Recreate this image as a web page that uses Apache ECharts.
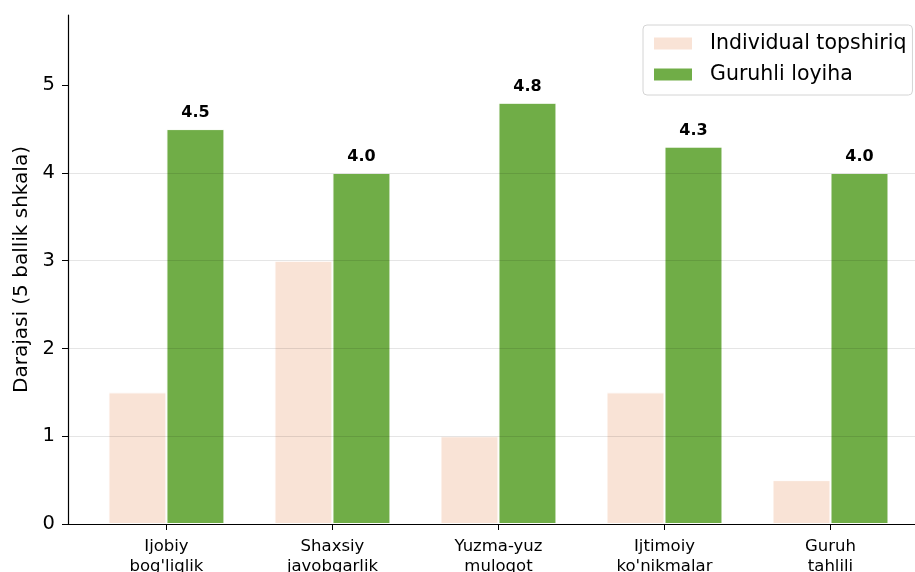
<!DOCTYPE html>
<html>
<head>
<meta charset="utf-8">
<script src="https://cdn.jsdelivr.net/npm/echarts@6/dist/echarts.min.js"></script>
<style>html,body{margin:0;padding:0;background:#fff}#c{width:915px;height:572px}</style>
</head>
<body>
<div id="c"></div>
<script>
const categories = ["Ijobiy\nbog'liqlik", "Shaxsiy\njavobgarlik", "Yuzma-yuz\nmuloqot", "Ijtimoiy\nko'nikmalar", "Guruh\ntahlili"];
const individual = [1.5, 3.0, 1.0, 1.5, 0.5];
const group = [4.5, 4.0, 4.8, 4.3, 4.0];
const seriesNames = ["Individual topshiriq", "Guruhli loyiha"];
const yTicks = [0, 1, 2, 3, 4, 5];

const font = "DejaVu Sans";
const chart = echarts.init(document.getElementById('c'));
const idx = categories.map((_, i) => i);
chart.setOption({
  animation: false,
  textStyle: { fontFamily: font },
  grid: { left: 68, right: 0, top: 15, bottom: 48, outerBoundsMode: 'none', containLabel: false },
  legend: {
    orient: 'vertical',
    left: 643, top: 25,
    padding: [8, 6, 10, 9],
    itemGap: 10,
    itemWidth: 40, itemHeight: 14,
    icon: 'rect',
    borderColor: '#d4d4d4', borderWidth: 1, borderRadius: 4,
    backgroundColor: 'rgba(255,255,255,0.85)',
    textStyle: { fontFamily: font, fontSize: 20.5, color: '#000', lineHeight: 20, padding: [0, 0, 0, 12] },
    data: seriesNames
  },
  xAxis: {
    type: 'value',
    min: -0.593, max: 4.509,
    axisLine: { show: true, onZero: false, lineStyle: { color: '#000', width: 1.2 } },
    axisTick: { show: true, length: 6, lineStyle: { color: '#000' }, customValues: idx },
    axisLabel: {
      customValues: idx,
      formatter: v => categories[Math.round(v)],
      fontFamily: font, fontSize: 16.5, color: '#000', lineHeight: 20, margin: 13
    },
    splitLine: { show: false }
  },
  yAxis: {
    type: 'value',
    min: 0, max: 5.8, interval: 1,
    z: 5,
    name: 'Darajasi (5 ballik shkala)',
    nameLocation: 'middle', nameGap: 36,
    nameTextStyle: { fontFamily: font, fontSize: 20, color: '#000' },
    axisLine: { show: true, onZero: false, lineStyle: { color: '#000', width: 1.2 } },
    axisTick: { show: true, length: 6, lineStyle: { color: '#000' }, customValues: yTicks },
    axisLabel: { customValues: yTicks, fontFamily: font, fontSize: 19.5, color: '#000', margin: 13 },
    splitLine: { show: true, showMinLine: false, showMaxLine: false, lineStyle: { color: 'rgba(0,0,0,0.1)', width: 1 } }
  },
  series: [
    {
      name: seriesNames[0], type: 'bar',
      data: individual.map((v, i) => [i, v]),
      barWidth: 58, barGap: '0%',
      itemStyle: { color: '#F9E3D6', borderColor: '#fff', borderWidth: 1 }
    },
    {
      name: seriesNames[1], type: 'bar',
      data: group.map((v, i) => [i, v]),
      barWidth: 58, barGap: '0%',
      itemStyle: { color: '#70AD47', borderColor: '#fff', borderWidth: 1 },
      label: {
        show: true, position: 'top', distance: 8,
        formatter: p => p.value[1].toFixed(1),
        fontFamily: font, fontWeight: 'bold', fontSize: 16, color: '#000'
      }
    }
  ]
});
</script>
</body>
</html>
